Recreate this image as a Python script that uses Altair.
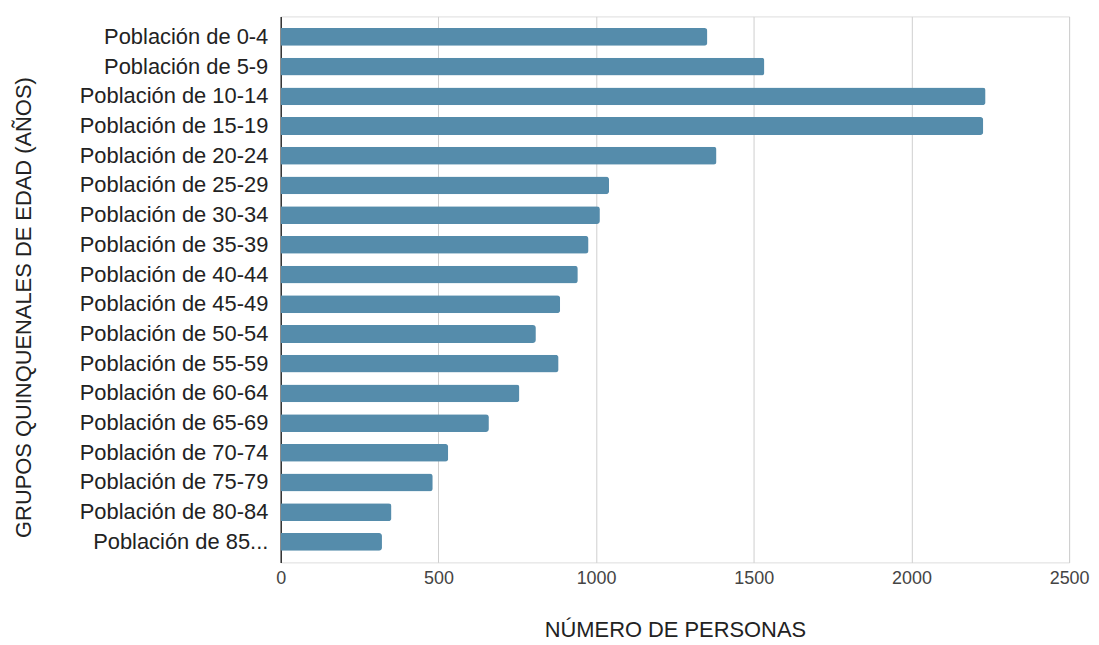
import altair as alt
import pandas as pd

grupos = [
    "Población de 0-4", "Población de 5-9", "Población de 10-14", "Población de 15-19",
    "Población de 20-24", "Población de 25-29", "Población de 30-34", "Población de 35-39",
    "Población de 40-44", "Población de 45-49", "Población de 50-54", "Población de 55-59",
    "Población de 60-64", "Población de 65-69", "Población de 70-74", "Población de 75-79",
    "Población de 80-84", "Población de 85...",
]
personas = [1353, 1534, 2235, 2228, 1382, 1041, 1012, 976, 942, 886, 809, 881,
            757, 660, 531, 482, 351, 321]
x_ticks = [0, 500, 1000, 1500, 2000, 2500]

df = pd.DataFrame({"grupo": grupos, "personas": personas})

FONT = "Liberation Sans"

chart = (
    alt.Chart(df)
    .mark_bar(color="#558cab", cornerRadiusEnd=3)
    .encode(
        x=alt.X(
            "personas:Q",
            scale=alt.Scale(domain=[0, 2500], nice=False),
            axis=alt.Axis(
                values=x_ticks,
                format="d",
                title="NÚMERO DE PERSONAS",
                titleFont=FONT,
                titleFontSize=22,
                titleFontWeight="normal",
                titleColor="#222222",
                titleBaseline="alphabetic",
                titleY=74,
                labelFont=FONT,
                labelFontSize=18,
                labelColor="#444444",
                labelPadding=7,
                labelFlush=False,
                domain=False,
                ticks=False,
                grid=True,
                gridColor="#cfcfcf",
                gridWidth=1,
            ),
        ),
        y=alt.Y(
            "grupo:N",
            sort=grupos,
            scale=alt.Scale(paddingInner=0.4, paddingOuter=0.39),
            axis=alt.Axis(
                title="GRUPOS QUINQUENALES DE EDAD (AÑOS)",
                titleFont=FONT,
                titleFontSize=22,
                titleFontWeight="normal",
                titleColor="#222222",
                titleAngle=270,
                titleBaseline="alphabetic",
                titleX=-251,
                titleY=292,
                labelFont=FONT,
                labelFontSize=22,
                labelColor="#222222",
                labelPadding=13,
                labelLimit=400,
                ticks=False,
                tickSize=0,
                domain=True,
                domainColor="#333333",
                domainWidth=1.5,
                grid=False,
            ),
        ),
    )
    .properties(
        width=792,
        height=548.5,
        autosize=alt.AutoSizeParams(type="none"),
        padding={"left": 274, "top": 7, "right": 22, "bottom": 78},
    )
    .configure_view(stroke=None)
    .configure(background="white")
)

chart.save("out.html", embed_options={"renderer": "svg", "actions": False})
